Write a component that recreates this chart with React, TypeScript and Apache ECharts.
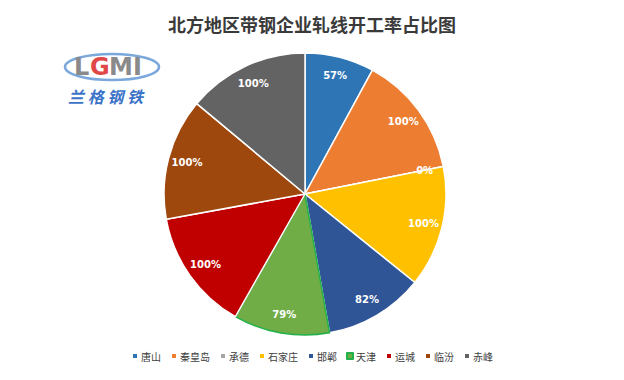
import React, { useEffect, useRef } from "react";
import * as echarts from "echarts";

const categories = ["唐山", "秦皇岛", "承德", "石家庄", "邯郸", "天津", "运城", "临汾", "赤峰"];
const values = [57, 100, 0, 100, 82, 79, 100, 100, 100];
const colors = ["#2E75B6", "#ED7D31", "#A5A5A5", "#FFC000", "#2F5597", "#70AD47", "#C00000", "#9E480E", "#636363"];
const title = "北方地区带钢企业轧线开工率占比图";

export default function App() {
  const ref = useRef<HTMLDivElement>(null);
  useEffect(() => {
    const chart = echarts.init(ref.current!, null, { renderer: "svg" });
    const data = categories.map((name, i) => ({
      name,
      value: values[i],
      itemStyle: name === "天津"
        ? { color: colors[i], borderColor: "#22b04a", borderWidth: 1.5 }
        : { color: colors[i] },
    }));
    chart.setOption({
      animation: false,
      backgroundColor: "#ffffff",
      title: {
        text: title,
        left: "center",
        top: 2,
        textStyle: { fontFamily: "Noto Sans CJK SC", fontWeight: "bold", fontSize: 18, color: "#3a3a3a" },
      },
      legend: {
        bottom: 6,
        left: "center",
        itemWidth: 6,
        itemHeight: 6,
        itemGap: 9,
        icon: "rect",
        textStyle: { fontFamily: "Noto Sans CJK SC", fontSize: 10, color: "#404040", padding: [0, 0, 0, -2] },
        data: categories,
      },
      graphic: [
        {
          type: "ellipse",
          shape: { cx: 104, cy: 59, rx: 47, ry: 13 },
          style: { fill: "none", stroke: "#7aa8dc", lineWidth: 2.5 },
        },
        {
          type: "text",
          x: 66, y: 47,
          style: { text: "L", fontSize: 24, fontWeight: "bold", fill: "#8a8a8a", fontFamily: "DejaVu Sans" },
        },
        {
          type: "text",
          x: 82, y: 47,
          style: { text: "G", fontSize: 24, fontWeight: "bold", fill: "#e04848", fontFamily: "DejaVu Sans" },
        },
        {
          type: "text",
          x: 101, y: 47,
          style: { text: "MI", fontSize: 24, fontWeight: "bold", fill: "#8a8a8a", fontFamily: "DejaVu Sans" },
        },
        {
          type: "text",
          x: 60, y: 80,
          style: { text: "兰 格 钢 铁", fontSize: 16, fontWeight: "bold", fill: "#3b73c8", fontFamily: "Noto Sans CJK SC", fontStyle: "italic" },
        },
      ],
      series: [
        {
          type: "pie",
          center: [297, 186],
          radius: [0, 141],
          startAngle: 90,
          clockwise: true,
          avoidLabelOverlap: false,
          label: { show: false },
          labelLine: { show: false },
          itemStyle: { borderColor: "#ffffff", borderWidth: 1.5 },
          emphasis: { disabled: true },
          data,
        },
        {
          type: "pie",
          center: [297, 186],
          radius: [98, 140],
          startAngle: 90,
          clockwise: true,
          avoidLabelOverlap: false,
          silent: true,
          legendHoverLink: false,
          itemStyle: { color: "rgba(0,0,0,0)" },
          label: {
            show: true,
            position: "inside",
            formatter: (p: any) => p.value + "%",
            color: "#ffffff",
            fontSize: 10,
            fontWeight: "bold",
            fontFamily: "DejaVu Sans",
          },
          labelLine: { show: false },
          data: categories.map((name, i) => ({ name: name + "_lbl", value: values[i] })),
        },
      ],
    });
    return () => chart.dispose();
  }, []);
  return <div ref={ref} style={{ width: 608, height: 364 }} />;
}
